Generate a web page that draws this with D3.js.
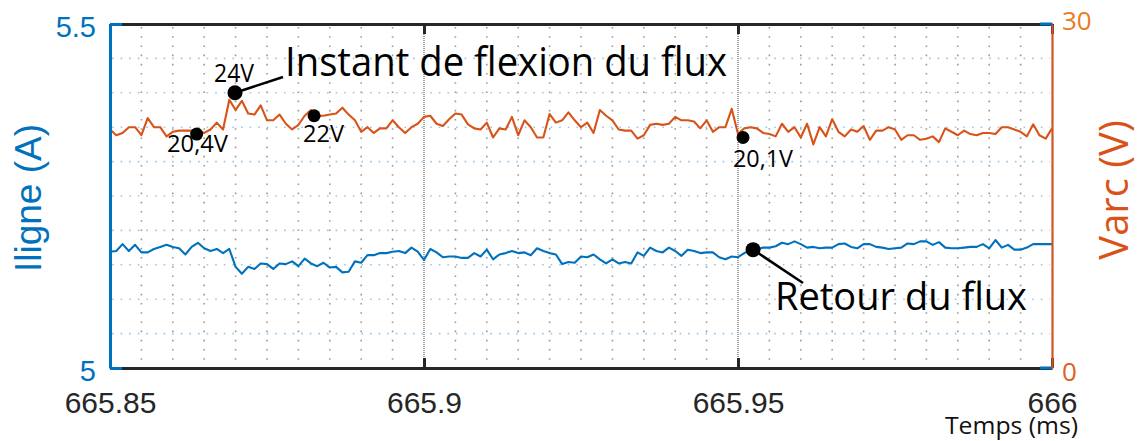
<!DOCTYPE html>
<html>
<head>
<meta charset="utf-8">
<script src="https://cdn.jsdelivr.net/npm/d3@7"></script>
<style>
  body { margin: 0; background: #ffffff; }
  svg { display: block; }
</style>
</head>
<body>
<svg id="chart" width="1140" height="441"></svg>
<script>
// Oscilloscope record: arc voltage and line current, 1 µs sample period
const tStart = 665.85;        // ms
const samplePeriod = 0.001;   // ms

const xTicks = [665.85, 665.9, 665.95, 666];
const xTickLabels = ["665.85", "665.9", "665.95", "666"];
const iTicks = [5, 5.5];
const iTickLabels = ["5", "5.5"];
const vTicks = [0, 30];
const vTickLabels = ["0", "30"];

// Varc (V)
const varc = [
  20.8,20.3,20.5,21.0,21.0,20.3,21.8,21.0,21.0,20.2,
  20.6,20.7,20.7,20.7,20.7,20.5,20.8,21.4,20.8,23.4,
  22.5,23.3,22.2,22.1,22.9,21.6,21.6,22.1,21.3,20.8,
  21.2,22.0,22.5,22.0,22.0,22.1,22.2,22.7,22.1,21.6,
  20.6,21.0,20.5,20.9,20.9,21.6,21.0,20.5,21.0,21.3,
  21.9,22.0,21.3,21.1,21.7,22.2,22.1,21.25,20.9,20.8,
  21.4,20.1,20.9,20.8,21.9,20.3,21.6,21.0,20.1,20.1,
  22.15,21.4,21.6,22.3,21.6,21.0,21.4,20.5,22.5,22.0,
  21.6,20.8,20.7,20.7,20.0,20.3,21.2,21.3,21.2,21.3,
  21.9,21.6,21.6,21.5,20.9,21.6,20.6,21.0,21.0,22.6,
  20.4,20.9,21.0,20.9,20.5,20.4,20.2,21.3,20.6,21.0,
  20.1,21.3,19.5,21.0,20.2,21.7,20.6,20.2,20.8,20.6,
  21.1,19.9,20.7,20.7,21.0,20.8,19.9,20.3,20.3,19.9,
  20.0,20.2,19.7,20.9,20.6,20.3,20.7,20.4,20.3,20.5,
  20.5,20.4,21.0,21.0,20.8,20.6,20.2,21.25,20.3,20.0,
  20.9
];

// Iligne (A)
const iligne = [
  5.169,5.170,5.180,5.170,5.179,5.168,5.168,5.173,5.176,5.179,
  5.176,5.174,5.165,5.176,5.182,5.174,5.170,5.173,5.167,5.173,
  5.147,5.137,5.147,5.144,5.152,5.151,5.144,5.152,5.151,5.155,
  5.148,5.159,5.152,5.148,5.153,5.146,5.147,5.139,5.140,5.155,
  5.153,5.164,5.164,5.167,5.167,5.169,5.170,5.167,5.175,5.169,
  5.157,5.173,5.168,5.161,5.162,5.162,5.160,5.160,5.167,5.162,
  5.172,5.158,5.165,5.167,5.170,5.167,5.168,5.164,5.174,5.170,
  5.167,5.165,5.151,5.154,5.153,5.162,5.161,5.165,5.158,5.152,
  5.158,5.152,5.154,5.152,5.168,5.163,5.175,5.170,5.168,5.175,
  5.170,5.163,5.172,5.170,5.167,5.168,5.168,5.161,5.158,5.162,
  5.161,5.167,5.172,5.172,5.175,5.175,5.177,5.182,5.180,5.184,
  5.180,5.175,5.176,5.174,5.175,5.175,5.180,5.181,5.176,5.174,
  5.180,5.180,5.176,5.175,5.173,5.174,5.175,5.181,5.180,5.184,
  5.184,5.179,5.183,5.175,5.174,5.174,5.175,5.176,5.176,5.180,
  5.174,5.186,5.175,5.179,5.172,5.172,5.175,5.180,5.180,5.180,
  5.180
];

// Marked points on the arc voltage
const varcMarkTimes = [665.8638, 665.8699, 665.8825, 665.9508];
const varcMarkValues = [20.4, 24, 22, 20.1];
const varcMarkLabels = ["20,4V", "24V", "22V", "20,1V"];

// Marked point on the line current
const iMarkTime = 665.9524;
const iMarkValue = 5.172;

const noteFlexion = "Instant de flexion du flux";
const noteRetour = "Retour du flux";
const xTitle = "Temps (ms)";
const iTitle = "Iligne (A)";
const vTitle = "Varc (V)";

// ---------------------------------------------------------------
const BLUE = "#0072BD";
const ORANGE = "#D95319";
const INK = "#262626";
const NOTE_FONT = "'Open Sans', 'Noto Sans', sans-serif";
const AXIS_FONT = "'Liberation Sans', Arial, sans-serif";

const plotLeft = 110, plotRight = 1052, plotTop = 24, plotBottom = 368;

const svg = d3.select("#chart");

const x = d3.scaleLinear().domain([xTicks[0], xTicks[xTicks.length - 1]]).range([plotLeft, plotRight]);
const yI = d3.scaleLinear().domain([iTicks[0], iTicks[1]]).range([plotBottom, plotTop]);
const yV = d3.scaleLinear().domain([vTicks[0], vTicks[1]]).range([plotBottom, plotTop]);

const sampleTime = i => tStart + i * samplePeriod;

// Stretch a text element to a given advance width
function fit(sel, w) {
  sel.attr("textLength", w).attr("lengthAdjust", "spacingAndGlyphs");
  return sel;
}

// ---- grid -------------------------------------------------------
const grid = svg.append("g");
const minorStep = (xTicks[1] - xTicks[0]) / 10;
const minorX = d3.range(1, 30).filter(k => k % 10 !== 0).map(k => xTicks[0] + k * minorStep);
grid.selectAll("line.vminor").data(minorX).join("line")
  .attr("x1", d => x(d)).attr("x2", d => x(d))
  .attr("y1", plotTop + 3).attr("y2", plotBottom - 2)
  .attr("stroke", "#9a9a9a").attr("stroke-width", 1.6)
  .attr("stroke-dasharray", "1.6 7.6");

grid.selectAll("line.vmajor").data(xTicks.slice(1, -1)).join("line")
  .attr("x1", d => x(d)).attr("x2", d => x(d))
  .attr("y1", plotTop).attr("y2", plotBottom)
  .attr("stroke", "#8a8a8a").attr("stroke-width", 1.6)
  .attr("stroke-dasharray", "1 1");

const minorStepI = (iTicks[1] - iTicks[0]) / 10;
const minorY = d3.range(1, 10).map(k => iTicks[0] + k * minorStepI);
grid.selectAll("line.hminor").data(minorY).join("line")
  .attr("x1", plotLeft + 2).attr("x2", plotRight - 2)
  .attr("y1", d => yI(d)).attr("y2", d => yI(d))
  .attr("stroke", "#9cc9ea").attr("stroke-width", 1.6)
  .attr("stroke-dasharray", "1.6 7");

// ---- traces -----------------------------------------------------
const lineV = d3.line().x((d, i) => x(sampleTime(i))).y(d => yV(d));
const lineI = d3.line().x((d, i) => x(sampleTime(i))).y(d => yI(d));

svg.append("path").datum(varc).attr("d", lineV)
  .attr("fill", "none").attr("stroke", ORANGE).attr("stroke-width", 2.1)
  .attr("stroke-linejoin", "round");
svg.append("path").datum(iligne).attr("d", lineI)
  .attr("fill", "none").attr("stroke", BLUE).attr("stroke-width", 2.1)
  .attr("stroke-linejoin", "round");

// ---- axes -------------------------------------------------------
const axes = svg.append("g");
const xBottom = axes.append("g").attr("transform", `translate(0,${plotBottom})`)
  .call(d3.axisBottom(x).tickValues(xTicks).tickFormat((d, i) => xTickLabels[i])
    .tickSizeInner(-10).tickSizeOuter(0).tickPadding(34));
const xTop = axes.append("g").attr("transform", `translate(0,${plotTop})`)
  .call(d3.axisTop(x).tickValues(xTicks).tickFormat("")
    .tickSizeInner(-10).tickSizeOuter(0));
[xBottom, xTop].forEach(g => {
  g.select(".domain").attr("stroke", INK).attr("stroke-width", 3);
  g.selectAll(".tick line").attr("stroke", INK).attr("stroke-width", 3);
});
xBottom.selectAll(".tick text")
  .attr("dy", 0).attr("y", 45)
  .attr("fill", INK).style("font-family", AXIS_FONT).style("font-size", "30px");

// left (current) axis
const yLeft = axes.append("g").attr("transform", `translate(${plotLeft},0)`)
  .call(d3.axisLeft(yI).tickValues(iTicks).tickFormat((d, i) => iTickLabels[i])
    .tickSizeInner(-12).tickSizeOuter(0).tickPadding(14));
yLeft.select(".domain").attr("stroke", BLUE).attr("stroke-width", 3);
yLeft.selectAll(".tick line").attr("stroke", BLUE).attr("stroke-width", 3);
yLeft.selectAll(".tick text").attr("dy", "0.42em")
  .attr("fill", BLUE).style("font-family", AXIS_FONT).style("font-size", "29px");

// mirrored current ticks on the right edge
axes.selectAll("line.rtick").data(iTicks).join("line")
  .attr("x1", plotRight - 12).attr("x2", plotRight)
  .attr("y1", d => yI(d)).attr("y2", d => yI(d))
  .attr("stroke", BLUE).attr("stroke-width", 3);

// right (voltage) axis
const yRight = axes.append("g").attr("transform", `translate(${plotRight},0)`)
  .call(d3.axisRight(yV).tickValues(vTicks).tickFormat((d, i) => vTickLabels[i])
    .tickSize(0).tickPadding(10));
yRight.select(".domain").attr("stroke", "#CF5624").attr("stroke-width", 2.2);
yRight.selectAll(".tick text")
  .attr("dy", d => d === vTicks[1] ? "0.22em" : "0.47em")
  .attr("fill", d => d === vTicks[1] ? "#EB7A24" : "#E0601B")
  .style("font-family", NOTE_FONT).style("font-size", "26px");

// ---- axis titles ------------------------------------------------
svg.append("text")
  .attr("transform", "translate(41,198) rotate(-90)")
  .attr("text-anchor", "middle")
  .attr("fill", BLUE).style("font-family", AXIS_FONT).style("font-size", "37px")
  .text(iTitle);

svg.append("text")
  .attr("transform", "translate(1128,190) rotate(-90)")
  .attr("text-anchor", "middle")
  .attr("fill", ORANGE).style("font-family", NOTE_FONT).style("font-size", "40px")
  .text(vTitle);

fit(svg.append("text")
  .attr("x", 945).attr("y", 434)
  .attr("fill", "#111").style("font-family", NOTE_FONT).style("font-size", "24px")
  .text(xTitle), 133);

// ---- annotations ------------------------------------------------
const notes = svg.append("g");
const markPts = varcMarkTimes.map((t, i) => ({ t, v: varcMarkValues[i], label: varcMarkLabels[i] }));

// leader lines
const flex = markPts[1];
notes.append("line")
  .attr("x1", x(flex.t)).attr("y1", yV(flex.v))
  .attr("x2", 283).attr("y2", 77)
  .attr("stroke", "#000").attr("stroke-width", 2.5);
notes.append("line")
  .attr("x1", x(iMarkTime)).attr("y1", yI(iMarkValue))
  .attr("x2", 803).attr("y2", 283)
  .attr("stroke", "#000").attr("stroke-width", 2.5);

notes.selectAll("circle.vmark").data(markPts).join("circle")
  .attr("cx", d => x(d.t)).attr("cy", d => yV(d.v))
  .attr("r", (d, i) => i === 1 ? 7.5 : 6.5).attr("fill", "#000");
notes.append("circle")
  .attr("cx", x(iMarkTime)).attr("cy", yI(iMarkValue))
  .attr("r", 7.5).attr("fill", "#000");

// value labels
const labelPlace = [
  { x: 167, y: 152, w: 61, fs: 23 },
  { x: 214, y: 82, w: 40, fs: 25 },
  { x: 303, y: 142, w: 41, fs: 24 },
  { x: 733, y: 167, w: 60, fs: 23 }
];
markPts.forEach((d, i) => {
  const p = labelPlace[i];
  fit(notes.append("text")
    .attr("x", p.x).attr("y", p.y)
    .attr("fill", "#000").style("font-family", NOTE_FONT).style("font-size", p.fs + "px")
    .text(d.label), p.w);
});

fit(notes.append("text")
  .attr("x", 285).attr("y", 76)
  .attr("fill", "#000").style("font-family", NOTE_FONT).style("font-size", "40px")
  .text(noteFlexion), 442);

fit(notes.append("text")
  .attr("x", 775).attr("y", 310)
  .attr("fill", "#000").style("font-family", NOTE_FONT).style("font-size", "38px")
  .text(noteRetour), 252);
</script>
</body>
</html>
